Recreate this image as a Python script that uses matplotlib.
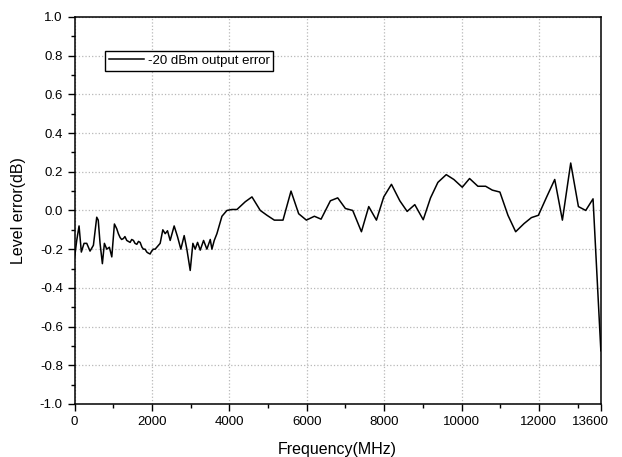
import matplotlib.pyplot as plt
from matplotlib.ticker import MultipleLocator
import matplotlib.transforms as mtransforms

plt.rcParams['font.family'] = ['Liberation Sans', 'DejaVu Sans']

# Data (MHz, dB)
freq = [0, 54, 114, 173, 243, 313, 398, 485, 571, 610, 657, 717, 769, 830, 898,
        960, 1028, 1089, 1130, 1175, 1215, 1261, 1300, 1347, 1390, 1434, 1475,
        1520, 1560, 1607, 1650, 1693, 1740, 1779, 1820, 1865, 1900, 1951, 1990,
        2037, 2080, 2124, 2210, 2279, 2340, 2400, 2469, 2572, 2658, 2745, 2831,
        2900, 2987, 3056, 3116, 3177, 3246, 3332, 3418, 3505, 3548, 3608, 3677,
        3807, 3936, 4066, 4195, 4410, 4583, 4798, 4971, 5161, 5385, 5592, 5790,
        5989, 6196, 6369, 6610, 6799, 6998, 7187, 7412, 7601, 7800, 7989, 8188,
        8404, 8594, 8791, 9009, 9198, 9388, 9604, 9801, 10018, 10207, 10422,
        10622, 10795, 10991, 11199, 11398, 11614, 11805, 11986, 12200, 12408,
        12606, 12821, 13020, 13209, 13398, 13600]
level_err = [-0.24, -0.155, -0.08, -0.215, -0.17, -0.17, -0.21, -0.18, -0.035,
             -0.05, -0.17, -0.275, -0.17, -0.2, -0.19, -0.24, -0.07, -0.095,
             -0.12, -0.14, -0.15, -0.145, -0.135, -0.155, -0.16, -0.165, -0.15,
             -0.155, -0.17, -0.175, -0.16, -0.165, -0.19, -0.2, -0.2, -0.215,
             -0.22, -0.225, -0.21, -0.2, -0.2, -0.19, -0.17, -0.1, -0.12, -0.105,
             -0.155, -0.08, -0.135, -0.2, -0.13, -0.2, -0.31, -0.17, -0.2,
             -0.165, -0.205, -0.155, -0.2, -0.15, -0.2, -0.155, -0.12, -0.03,
             0.0, 0.005, 0.005, 0.045, 0.07, 0.0, -0.025, -0.05, -0.05, 0.1,
             -0.017, -0.05, -0.03, -0.045, 0.05, 0.065, 0.01, 0.0, -0.11, 0.02,
             -0.05, 0.07, 0.135, 0.05, -0.005, 0.03, -0.048, 0.065, 0.145, 0.185,
             0.16, 0.12, 0.165, 0.125, 0.125, 0.105, 0.095, -0.025, -0.11,
             -0.068, -0.037, -0.025, 0.07, 0.16, -0.05, 0.245, 0.02, 0.0, 0.06,
             -0.725]

x_ticks = [0, 2000, 4000, 6000, 8000, 10000, 12000, 13600]

fig = plt.figure(figsize=(6.22, 4.57), dpi=100)
ax = fig.add_axes([0.12, 0.116, 0.846, 0.847])

ax.plot(freq, level_err, color='black', linewidth=1.1, label='-20 dBm output error')

ax.set_xlim(0, 13600)
ax.set_ylim(-1.0, 1.0)
ax.set_xticks(x_ticks)
ax.set_xticklabels([str(t) for t in x_ticks])
ax.xaxis.set_minor_locator(MultipleLocator(1000))
ax.yaxis.set_major_locator(MultipleLocator(0.2))
ax.yaxis.set_minor_locator(MultipleLocator(0.1))
ax.yaxis.set_major_formatter(plt.FormatStrFormatter('%.1f'))
ax.tick_params(which='both', direction='out', top=False, right=False,
               labelsize=9.5, width=1)
ax.tick_params(which='major', length=5)
ax.tick_params(which='minor', length=3)
for sp in ax.spines.values():
    sp.set_linewidth(1.1)

ax.grid(True, which='major', color='#b8b8b8', linestyle=':', linewidth=0.9)

# nudge the last x label away from the right edge like the original
last = ax.get_xticklabels()[-1]
last.set_transform(last.get_transform() + mtransforms.ScaledTranslation(-0.1, 0, fig.dpi_scale_trans))

ax.set_xlabel('Frequency(MHz)', fontsize=11.5, labelpad=10)
ax.set_ylabel('Level error(dB)', fontsize=11.5, labelpad=10)

ax.legend(loc='upper left', bbox_to_anchor=(0.046, 0.93), fontsize=9.5,
          fancybox=False, framealpha=1, edgecolor='black', handlelength=2.6,
          borderpad=0.3, handletextpad=0.3)

fig.savefig('out.png', dpi=100)
